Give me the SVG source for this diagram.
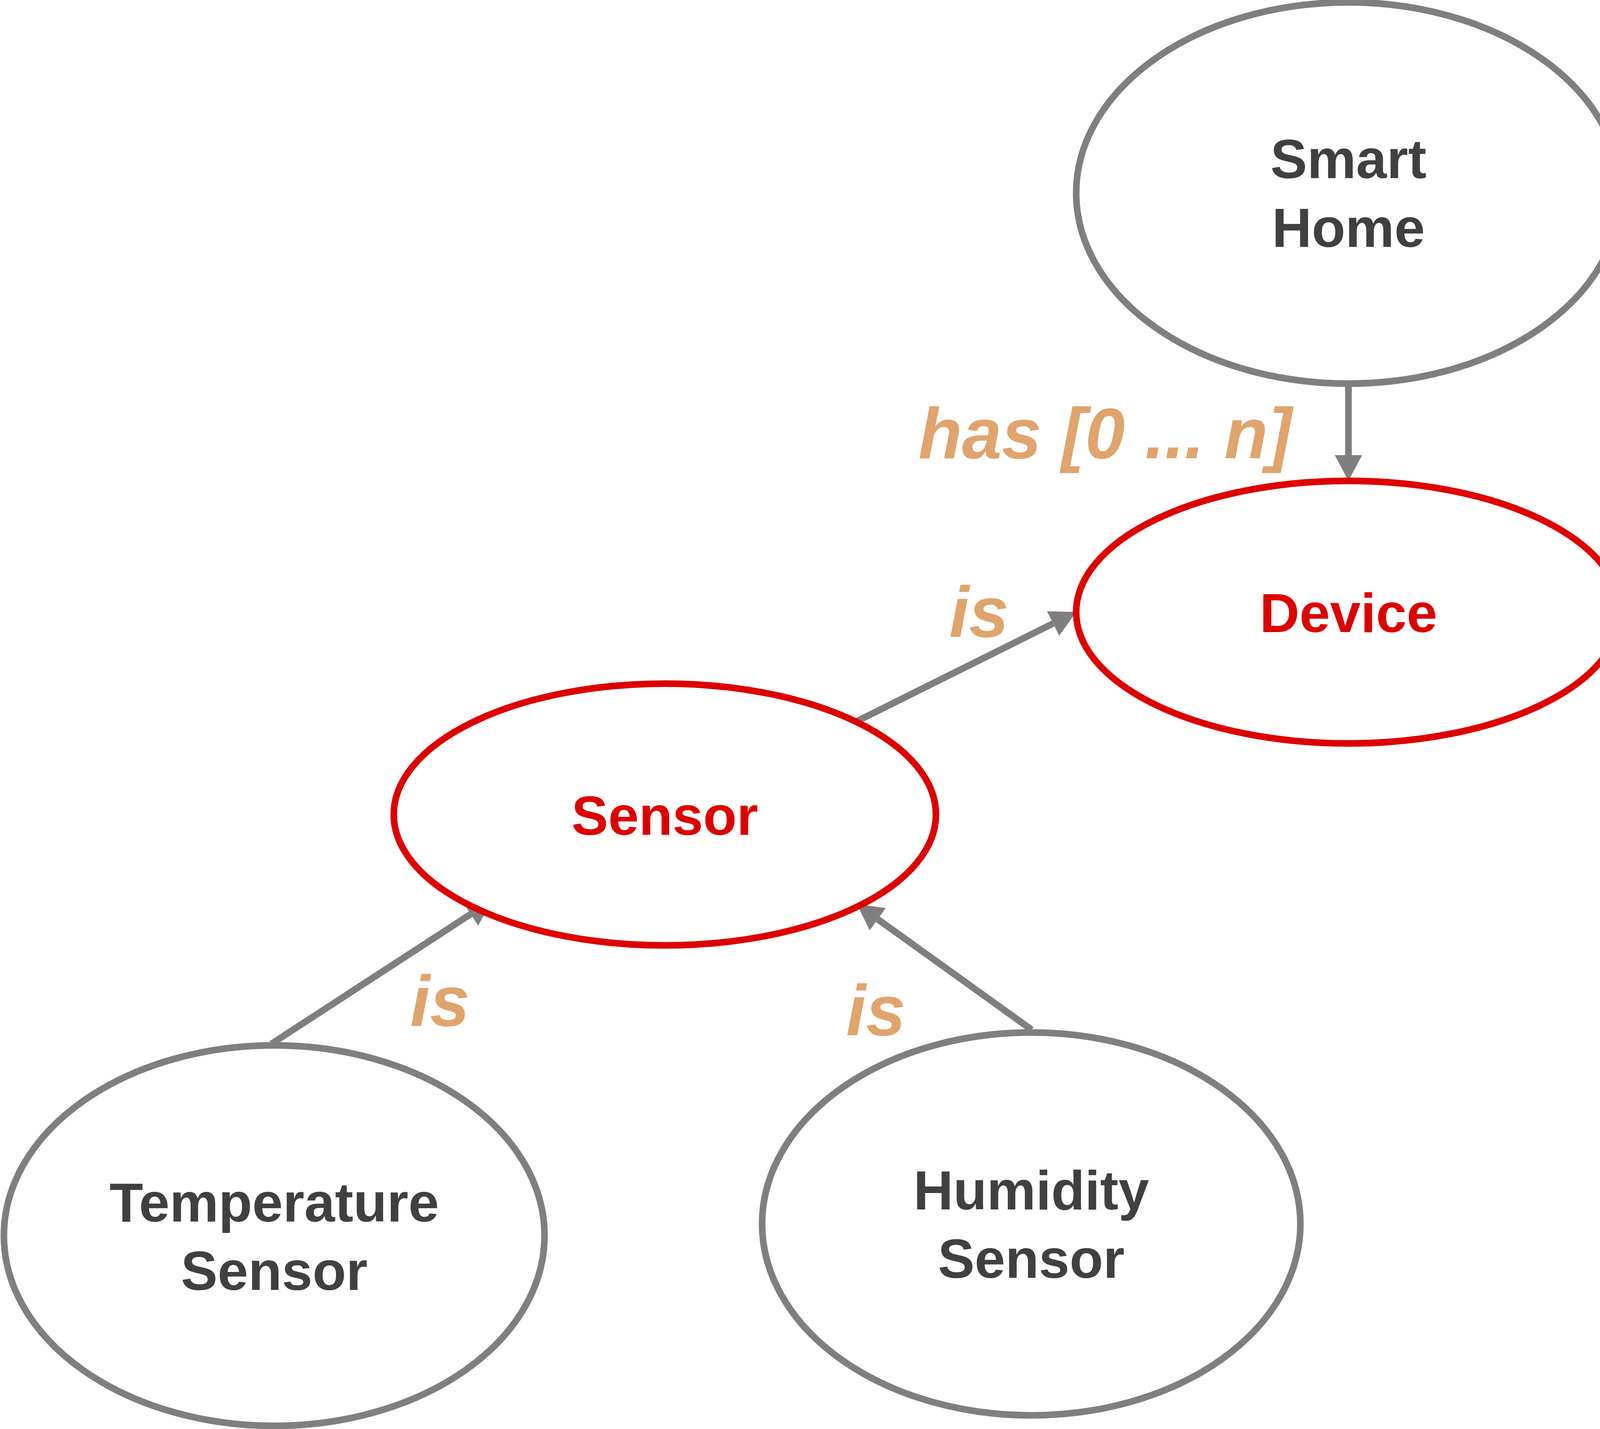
<svg xmlns="http://www.w3.org/2000/svg" width="6825" height="3658" viewBox="0 0 6825 3658">
<style>
.n{fill:#fff;stroke-width:17}
.g{stroke:#7f7f7f}
.r{stroke:#dd0000}
.t{font-family:"Liberation Sans",Arial,sans-serif;font-weight:bold;font-size:141px;text-anchor:middle}
.tg{fill:#404040}
.tr{fill:#dd0000}
.e{stroke:#7f7f7f;stroke-width:17;fill:none}
.l{font-family:"Liberation Sans",Arial,sans-serif;font-weight:bold;font-style:italic;font-size:183px;fill:#e0a46c}
</style>
<defs>
<marker id="a" markerUnits="userSpaceOnUse" markerWidth="66" markerHeight="70" refX="0" refY="35" viewBox="0 0 66 70" orient="auto" overflow="visible">
<path d="M0,0 L66,35 L0,70 z" fill="#7f7f7f"/>
</marker>
</defs>
<rect width="6825" height="3658" fill="#fff"/>
<g id="connectors">
<line class="e" x1="3452" y1="983" x2="3452" y2="1165" marker-end="url(#a)"/>
<line class="e" x1="2190" y1="1848" x2="2696" y2="1596" marker-end="url(#a)"/>
<line class="e" x1="4790" y1="1851" x2="4203" y2="1592" marker-end="url(#a)"/>
<line class="e" x1="695" y1="2672" x2="1205" y2="2340" marker-end="url(#a)"/>
<line class="e" x1="2641" y1="2636" x2="2247" y2="2353" marker-end="url(#a)"/>
<line class="e" x1="5636" y1="2711" x2="5333" y2="2457" marker-end="url(#a)"/>
<text class="l" x="2351" y="1173">has [0 ... n]</text>
<text class="l" x="2430" y="1630">is</text>
<text class="l" x="4291" y="1903">is</text>
<text class="l" x="1050" y="2626">is</text>
<text class="l" x="2166" y="2650">is</text>
<text class="l" x="5311" y="2728">is</text>
</g>
<g id="smart-home">
<ellipse class="n g" cx="3452" cy="494" rx="697" ry="488"/>
<text class="t tg" x="3452" y="456">Smart</text>
<text class="t tg" x="3452" y="632">Home</text>
</g>
<g id="device">
<ellipse class="n r" cx="3452" cy="1567" rx="697" ry="336"/>
<text class="t tr" x="3452" y="1618">Device</text>
</g>
<g id="sensor">
<ellipse class="n r" cx="1702" cy="2085" rx="694" ry="335"/>
<text class="t tr" x="1702" y="2137">Sensor</text>
</g>
<g id="actuator">
<ellipse class="n r" cx="5280" cy="2086" rx="693" ry="333"/>
<text class="t tr" x="5280" y="2137">Actuator</text>
</g>
<g id="temperature-sensor">
<ellipse class="n g" cx="702" cy="3163" rx="692" ry="487"/>
<text class="t tg" x="702" y="3127">Temperature</text>
<text class="t tg" x="702" y="3302">Sensor</text>
</g>
<g id="humidity-sensor">
<ellipse class="n g" cx="2640" cy="3133" rx="689" ry="490"/>
<text class="t tg" x="2640" y="3096">Humidity</text>
<text class="t tg" x="2640" y="3271">Sensor</text>
</g>
<g id="smart-light">
<ellipse class="n g" cx="6120" cy="3064" rx="691" ry="487"/>
<text class="t tg" x="6120" y="3027">Smart</text>
<text class="t tg" x="6120" y="3203">Light</text>
</g>
</svg>
